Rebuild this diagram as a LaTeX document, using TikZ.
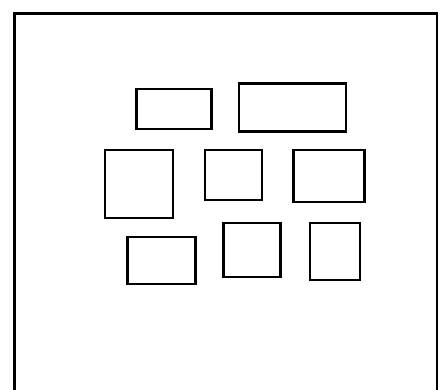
\documentclass[tikz,border=0pt]{standalone}
\usepackage{tikz}

\begin{document}
\begin{tikzpicture}[x=1pt,y=-1pt,
    frame/.style={draw,line width=2.6pt},
    tile/.style={draw,line width=2.6pt,inner sep=0pt,outer sep=0pt}]
  \useasboundingbox (0,0) rectangle (444,389);
  \coordinate (nw) at (14.5,13.5);
  \coordinate (se) at (437,400);
  \draw[frame] (nw) rectangle (se);
  % top row
  \node[tile,minimum width=75pt,minimum height=40pt] (t1) at (174,109) {};
  \node[tile,minimum width=107pt,minimum height=48pt] (t2) at (292.5,107.7) {};
  % middle row
  \node[tile,minimum width=68pt,minimum height=68pt] (m1) at (138.8,184) {};
  \node[tile,minimum width=57pt,minimum height=50pt] (m2) at (233.3,175) {};
  \node[tile,minimum width=71pt,minimum height=52pt] (m3) at (329.2,176) {};
  % bottom row
  \node[tile,minimum width=68pt,minimum height=47pt] (b1) at (161.5,260.5) {};
  \node[tile,minimum width=57pt,minimum height=54pt] (b2) at (251.7,250) {};
  \node[tile,minimum width=50pt,minimum height=57pt] (b3) at (334.8,251.3) {};
\end{tikzpicture}
\end{document}
